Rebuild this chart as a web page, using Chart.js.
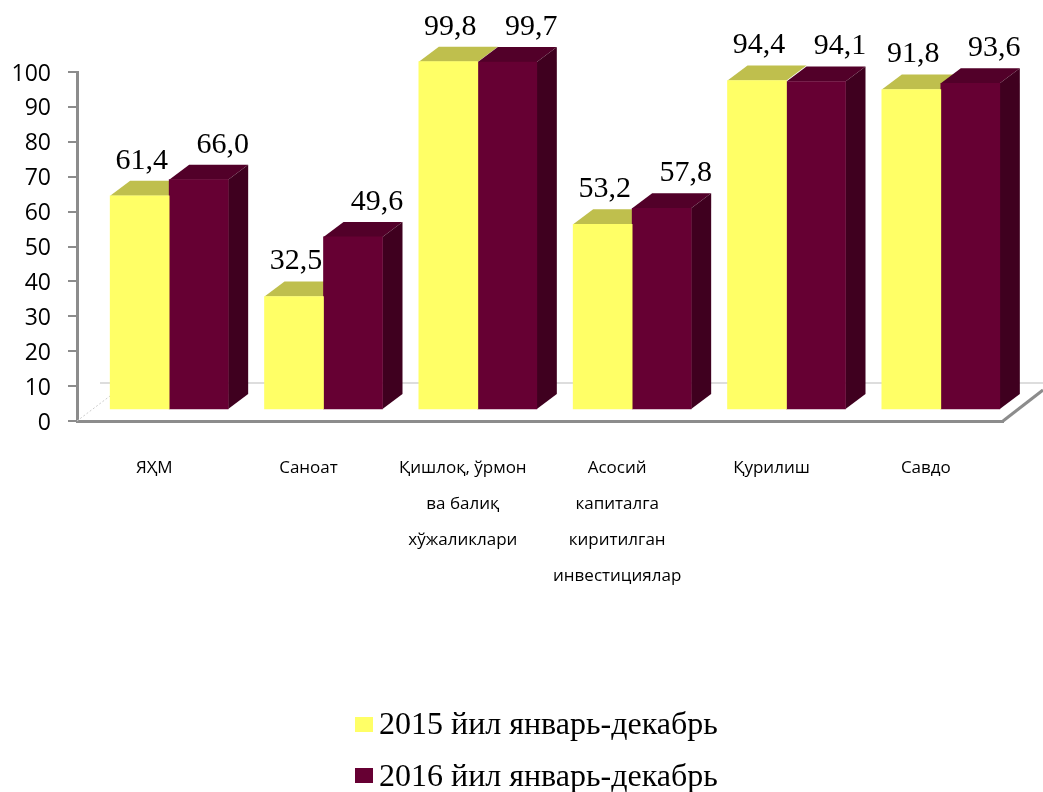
<!DOCTYPE html>
<html>
<head>
<meta charset="utf-8">
<title>Chart</title>
<script src="https://cdn.jsdelivr.net/npm/chart.js@4"></script>
<style>
  html, body { margin: 0; padding: 0; background: #fff; overflow: hidden; }
  canvas { display: block; }
</style>
</head>
<body>
<canvas id="barChart" width="1043" height="792"></canvas>
<script>
const categories = [
    ['ЯҲМ'],
    ['Саноат'],
    ['Қишлоқ, ўрмон', 'ва балиқ', 'хўжаликлари'],
    ['Асосий', 'капиталга', 'киритилган', 'инвестициялар'],
    ['Қурилиш'],
    ['Савдо']
];
const seriesNames = ['2015 йил январь-декабрь', '2016 йил январь-декабрь'];
const values2015 = [61.4, 32.5, 99.8, 53.2, 94.4, 91.8];
const values2016 = [66.0, 49.6, 99.7, 57.8, 94.1, 93.6];

const frontColors = ['#FFFF66', '#660033'];
const topColors = ['#BFBF4D', '#520029'];
const sideColor = '#3F001F';
const axisColor = '#8C8C8C';

// Depth of the fake 3D: bars sit back on the floor, faces go up and right
const shiftX = 15, shiftY = -11;
const depthX = 20, depthY = -15;
const labelShift = [2, 24];

function face(ctx, points, color) {
    ctx.fillStyle = color;
    ctx.beginPath();
    points.forEach((p, i) => i ? ctx.lineTo(p[0], p[1]) : ctx.moveTo(p[0], p[1]));
    ctx.closePath();
    ctx.fill();
}

const fake3d = {
    id: 'fake3d',
    beforeDatasetsDraw(chart) {
        const ctx = chart.ctx;
        const area = chart.chartArea;

        // floor
        ctx.save();
        ctx.strokeStyle = '#DDDDDD';
        ctx.lineWidth = 2;
        ctx.beginPath();
        ctx.moveTo(100, area.bottom - 38);
        ctx.lineTo(1043, area.bottom - 38);
        ctx.stroke();
        ctx.strokeStyle = '#CCCCCC';
        ctx.lineWidth = 1;
        ctx.setLineDash([2, 2]);
        ctx.beginPath();
        ctx.moveTo(area.left, area.bottom);
        ctx.lineTo(area.left + 33, area.bottom - 25);
        ctx.stroke();
        ctx.setLineDash([]);
        ctx.strokeStyle = axisColor;
        ctx.lineWidth = 3;
        ctx.beginPath();
        ctx.moveTo(area.right, area.bottom);
        ctx.lineTo(1043, area.bottom - 31);
        ctx.stroke();
        ctx.restore();

        // bars are drawn shifted, restored again in afterDatasetsDraw
        ctx.save();
        ctx.translate(shiftX, shiftY);
        chart.data.datasets.forEach((ds, d) => {
            chart.getDatasetMeta(d).data.forEach(bar => {
                const left = bar.x - bar.width / 2;
                const right = bar.x + bar.width / 2;
                face(ctx, [[left, bar.y], [left + depthX, bar.y + depthY],
                    [right + depthX, bar.y + depthY], [right, bar.y]], topColors[d]);
                if (d === 1) {
                    face(ctx, [[right, bar.y], [right + depthX, bar.y + depthY],
                        [right + depthX, bar.base + depthY], [right, bar.base]], sideColor);
                }
            });
        });
    },
    afterDatasetsDraw(chart) {
        const ctx = chart.ctx;
        ctx.restore();

        // value labels
        ctx.save();
        ctx.font = '30px "Liberation Serif"';
        ctx.fillStyle = '#000';
        ctx.textAlign = 'center';
        ctx.textBaseline = 'middle';
        chart.data.datasets.forEach((ds, d) => {
            chart.getDatasetMeta(d).data.forEach((bar, i) => {
                const text = ds.data[i].toFixed(1).replace('.', ',');
                ctx.fillText(text, bar.x + shiftX + labelShift[d], bar.y + shiftY - 35);
            });
        });

        // legend
        ctx.font = '32px "Liberation Serif"';
        ctx.textAlign = 'left';
        ctx.textBaseline = 'alphabetic';
        seriesNames.forEach((name, d) => {
            const rowY = 734 + d * 52;
            ctx.fillStyle = frontColors[d];
            ctx.fillRect(355, rowY - 17 - d, 18, 15);
            ctx.fillStyle = '#000';
            ctx.fillText(name, 379, rowY);
        });
        ctx.restore();
    }
};

new Chart(document.getElementById('barChart'), {
    type: 'bar',
    data: {
        labels: categories,
        datasets: [
            { label: seriesNames[0], data: values2015, backgroundColor: frontColors[0], clip: false },
            { label: seriesNames[1], data: values2016, backgroundColor: frontColors[1], clip: false }
        ]
    },
    options: {
        responsive: false,
        animation: false,
        barThickness: 59,
        layout: { autoPadding: false, padding: { top: 72, right: 40, left: 0, bottom: 0 } },
        plugins: {
            legend: { display: false },
            tooltip: { enabled: false }
        },
        scales: {
            x: {
                afterFit(scale) { scale.height = 371; },
                grid: { display: false },
                border: { color: axisColor, width: 3 },
                ticks: {
                    autoSkip: false,
                    maxRotation: 0,
                    padding: 21,
                    color: '#000',
                    font: { family: '"Open Sans"', size: 17, lineHeight: 2.118 }
                }
            },
            y: {
                min: 0,
                max: 100,
                afterFit(scale) { scale.width = 77; },
                grid: { drawOnChartArea: false, color: axisColor, lineWidth: 2, tickLength: 9 },
                border: { color: axisColor, width: 3 },
                ticks: {
                    stepSize: 10,
                    padding: 17,
                    labelOffset: 2,
                    color: '#000',
                    font: { family: '"Open Sans"', size: 23 }
                }
            }
        }
    },
    plugins: [fake3d]
});
</script>
</body>
</html>
